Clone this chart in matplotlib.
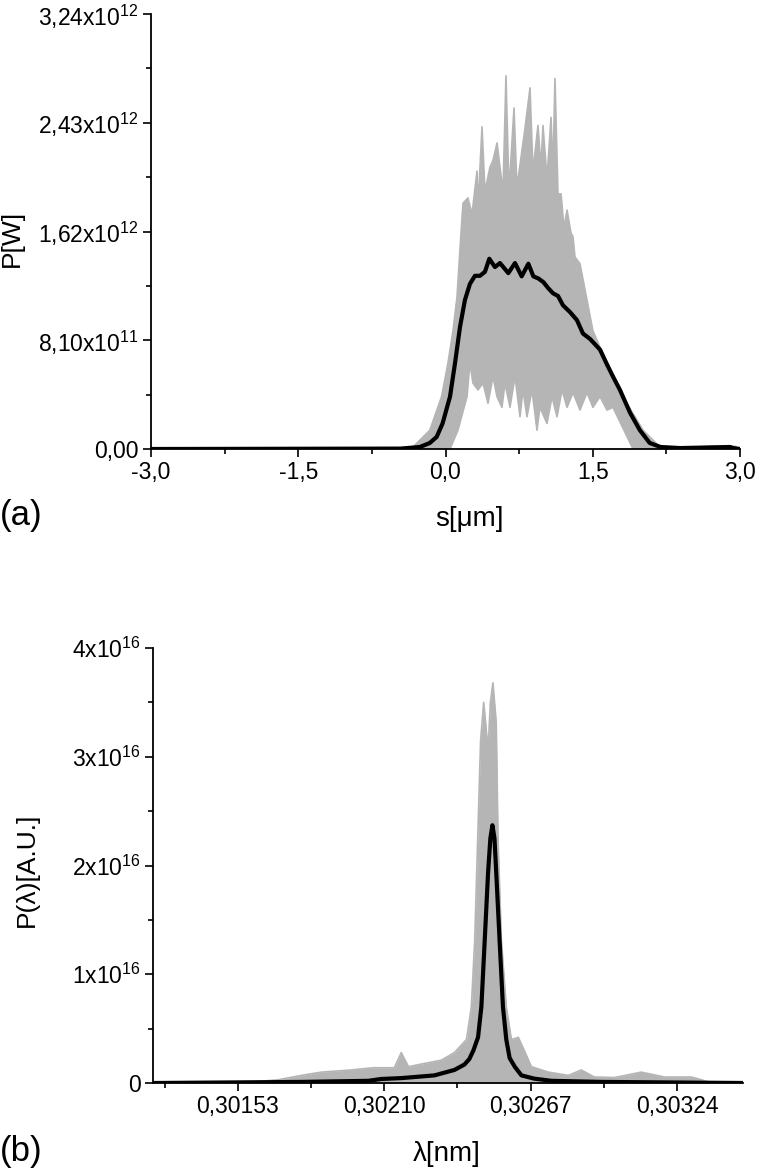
import numpy as np
import matplotlib
matplotlib.use("Agg")
import matplotlib.pyplot as plt
from matplotlib.ticker import FixedLocator, FixedFormatter

plt.rcParams['font.family'] = ['Liberation Sans', 'DejaVu Sans']
plt.rcParams['mathtext.fontset'] = 'custom'
plt.rcParams['mathtext.rm'] = 'Liberation Sans'
plt.rcParams['mathtext.it'] = 'Liberation Sans:italic'
plt.rcParams['mathtext.bf'] = 'Liberation Sans:bold'

# ---------------- panel (a): power vs s ----------------
# upper envelope of the gray ensemble (s in um, P in 1e12 W)
s_up = [-3.0, -0.46, -0.33, -0.16, -0.04, 0.025, 0.076, 0.117, 0.158, 0.178, 0.229, 0.270,
        0.321, 0.331, 0.372, 0.402, 0.453, 0.484, 0.525, 0.555, 0.586, 0.616, 0.647, 0.698,
        0.728, 0.810, 0.861, 0.891, 0.942, 0.973, 0.993, 1.034, 1.075, 1.095, 1.115, 1.146,
        1.177, 1.207, 1.238, 1.278, 1.299, 1.319, 1.370, 1.502, 1.645, 1.808, 2.012, 2.185,
        2.39, 2.70, 2.95, 3.0]
p_up = [0.0, 0.0, 0.015, 0.14, 0.39, 0.64, 0.88, 1.13, 1.61, 1.83, 1.87, 1.75,
        2.07, 1.80, 2.40, 1.92, 2.10, 2.15, 2.28, 2.10, 1.92, 2.78, 1.92, 2.54,
        1.95, 2.39, 2.69, 2.07, 2.41, 2.10, 2.41, 2.02, 2.47, 2.07, 2.76, 1.90,
        1.90, 1.65, 1.78, 1.61, 1.58, 1.43, 1.38, 0.88, 0.64, 0.39, 0.14, 0.015,
        0.0, 0.02, 0.02, 0.0]
# lower envelope of the gray ensemble
s_lo = [-3.0, 0.046, 0.127, 0.219, 0.249, 0.280, 0.331, 0.382, 0.433, 0.484, 0.525, 0.575,
        0.606, 0.657, 0.708, 0.759, 0.789, 0.830, 0.881, 0.932, 0.962, 1.034, 1.085, 1.136,
        1.187, 1.238, 1.299, 1.370, 1.441, 1.502, 1.574, 1.645, 1.706, 1.910, 3.0]
p_lo = [0.0, 0.0, 0.14, 0.39, 0.64, 0.49, 0.44, 0.49, 0.34, 0.54, 0.39, 0.31,
        0.49, 0.31, 0.54, 0.24, 0.44, 0.24, 0.44, 0.14, 0.31, 0.19, 0.39, 0.24,
        0.44, 0.31, 0.42, 0.29, 0.42, 0.31, 0.39, 0.29, 0.31, 0.0, 0.0]
# mean power (black)
s_mean = [-3.0, -0.46, -0.26, -0.16, -0.09, -0.03, 0.046, 0.097, 0.148, 0.198, 0.249, 0.300,
          0.351, 0.402, 0.446, 0.504, 0.555, 0.640, 0.708, 0.776, 0.844, 0.895, 0.946, 0.997,
          1.044, 1.095, 1.146, 1.197, 1.268, 1.339, 1.400, 1.472, 1.574, 1.645, 1.706, 1.777,
          1.88, 1.98, 2.08, 2.19, 2.39, 2.90, 2.93, 3.0]
p_mean = [0.0, 0.003, 0.015, 0.045, 0.09, 0.19, 0.39, 0.64, 0.91, 1.11, 1.23, 1.29,
          1.29, 1.32, 1.417, 1.355, 1.385, 1.31, 1.385, 1.286, 1.38, 1.286, 1.27, 1.243,
          1.20, 1.16, 1.14, 1.07, 1.02, 0.96, 0.86, 0.82, 0.74, 0.63, 0.54, 0.44,
          0.27, 0.14, 0.045, 0.015, 0.007, 0.015, 0.007, 0.0]

a_yticks = [0.0, 0.81, 1.62, 2.43, 3.24]
a_yticklabels = ['0,00', r'8,10x10$^{11}$', r'1,62x10$^{12}$', r'2,43x10$^{12}$', r'3,24x10$^{12}$']
a_xticks = [-3.0, -1.5, 0.0, 1.5, 3.0]
a_xticklabels = ['-3,0', '-1,5', '0,0', '1,5', '3,0']

# ---------------- panel (b): spectrum ----------------
lam_env = [0.301204, 0.301543, 0.301687, 0.301777, 0.301855, 0.301971, 0.302057, 0.302116,
           0.302139, 0.302166, 0.302194, 0.302256, 0.302322, 0.302373, 0.302420, 0.302439,
           0.302452, 0.302465, 0.302475, 0.302487, 0.302495, 0.302504, 0.302513, 0.302523,
           0.302536, 0.302543, 0.302556, 0.302575, 0.302595, 0.302622, 0.302645, 0.302673,
           0.302739, 0.302817, 0.302867, 0.302918, 0.302996, 0.303101, 0.303191, 0.303296,
           0.303335, 0.303374, 0.303503]
p_env = [0.0, 0.0, 0.03, 0.07, 0.10, 0.12, 0.14, 0.14,
         0.14, 0.28, 0.15, 0.18, 0.21, 0.28, 0.40, 0.70,
         1.31, 2.35, 3.15, 3.50, 3.30, 3.06, 3.50, 3.68,
         3.31, 2.23, 1.31, 0.70, 0.40, 0.42, 0.30, 0.15,
         0.10, 0.07, 0.12, 0.055, 0.05, 0.10, 0.055, 0.055,
         0.03, 0.0, 0.0]
lam_mean = [0.301204, 0.301777, 0.302038, 0.302088, 0.302166, 0.302295, 0.302373, 0.302412,
            0.302431, 0.302447, 0.302465, 0.302478, 0.302491, 0.302504, 0.302513, 0.302521,
            0.302529, 0.302536, 0.302549, 0.302562, 0.302575, 0.302588, 0.302608, 0.302634,
            0.302684, 0.302751, 0.302945, 0.303503]
pl_mean = [0.0, 0.01, 0.02, 0.037, 0.045, 0.07, 0.12, 0.17,
           0.22, 0.30, 0.42, 0.70, 1.31, 1.93, 2.25, 2.37,
           2.25, 1.93, 1.31, 0.70, 0.40, 0.23, 0.15, 0.07,
           0.04, 0.02, 0.01, 0.0]

b_yticks = [0, 1, 2, 3, 4]
b_yticklabels = ['0', r'1x10$^{16}$', r'2x10$^{16}$', r'3x10$^{16}$', r'4x10$^{16}$']
b_xticks = [0.30153, 0.30210, 0.30267, 0.30324]
b_xticklabels = ['0,30153', '0,30210', '0,30267', '0,30324']

GRAY = '#b5b5b5'
W, H = 760, 1170
fig = plt.figure(figsize=(7.6, 11.7), dpi=100)


def style(ax):
    for sp in ['top', 'right']:
        ax.spines[sp].set_visible(False)
    for sp in ['left', 'bottom']:
        ax.spines[sp].set_linewidth(1.3)
    ax.tick_params(which='major', direction='out', length=6, width=1.2, labelsize=16.5, pad=3)
    ax.tick_params(which='minor', direction='out', length=3.5, width=1.2)


# panel (a)
axa = fig.add_axes([151 / W, 1 - 449 / H, (740 - 151) / W, (449 - 14) / H])
sa = np.array(s_up + s_lo[::-1])
pa = np.array(p_up + p_lo[::-1]) * 1e12
axa.fill(sa, pa, color=GRAY, lw=0)
axa.plot(s_up, np.array(p_up) * 1e12, color=GRAY, lw=1.2)
axa.plot(s_lo, np.array(p_lo) * 1e12, color=GRAY, lw=1.2)
axa.plot(s_mean, np.array(p_mean) * 1e12, color='black', lw=3.0, solid_joinstyle='round')
axa.set_xlim(-3.0, 3.0)
axa.set_ylim(0, 3.24e12)
axa.yaxis.set_major_locator(FixedLocator([v * 1e12 for v in a_yticks]))
axa.yaxis.set_major_formatter(FixedFormatter(a_yticklabels))
axa.yaxis.set_minor_locator(FixedLocator([(a_yticks[i] + a_yticks[i + 1]) / 2 * 1e12 for i in range(4)]))
axa.xaxis.set_major_locator(FixedLocator(a_xticks))
axa.xaxis.set_major_formatter(FixedFormatter(a_xticklabels))
axa.xaxis.set_minor_locator(FixedLocator([(a_xticks[i] + a_xticks[i + 1]) / 2 for i in range(4)]))
style(axa)

# panel (b)
axb = fig.add_axes([153 / W, 1 - 1083 / H, (743 - 153) / W, (1083 - 648) / H])
axb.fill_between(lam_env, 0, np.array(p_env) * 1e16, color=GRAY, lw=0)
axb.plot(lam_env, np.array(p_env) * 1e16, color=GRAY, lw=1.2)
axb.plot(lam_mean, np.array(pl_mean) * 1e16, color='black', lw=3.0, solid_joinstyle='round')
axb.set_xlim(0.301199, 0.303497)
axb.set_ylim(0, 4e16)
axb.yaxis.set_major_locator(FixedLocator([v * 1e16 for v in b_yticks]))
axb.yaxis.set_major_formatter(FixedFormatter(b_yticklabels))
axb.yaxis.set_minor_locator(FixedLocator([(v + 0.5) * 1e16 for v in b_yticks[:-1]]))
axb.xaxis.set_major_locator(FixedLocator(b_xticks))
axb.xaxis.set_major_formatter(FixedFormatter(b_xticklabels))
half = (b_xticks[1] - b_xticks[0]) / 2
axb.xaxis.set_minor_locator(FixedLocator([b_xticks[0] - half] + [v + half for v in b_xticks[:-1]]))
style(axb)

# labels
fig.text(12 / W, 1 - 238 / H, 'P[W]', rotation=90, ha='center', va='center', fontsize=19)
fig.text(469 / W, 1 - 519 / H, 's[μm]', ha='center', va='center', fontsize=20)
fig.text(0 / W, 1 - 516 / H, '(a)', ha='left', va='center', fontsize=25)
fig.text(27 / W, 1 - 870 / H, 'P(λ)[A.U.]', rotation=90, ha='center', va='center', fontsize=19)
fig.text(447 / W, 1 - 1154 / H, 'λ[nm]', ha='center', va='center', fontsize=20)
fig.text(0 / W, 1 - 1151 / H, '(b)', ha='left', va='center', fontsize=25)

fig.savefig('out.png', dpi=100)
